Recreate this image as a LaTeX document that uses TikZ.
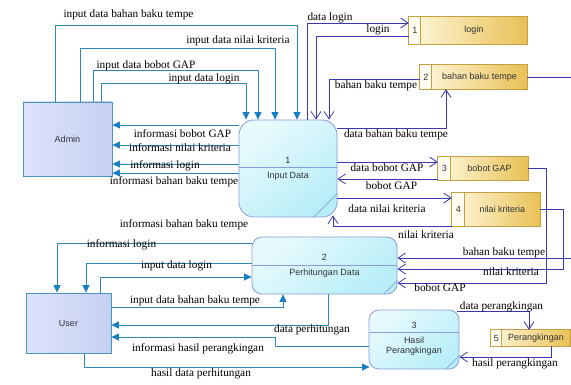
\documentclass[tikz,border=0pt]{standalone}
\usepackage{fontspec}
\setmainfont{Liberation Serif}
\newfontfamily\boxfont{Liberation Sans}
\usetikzlibrary{arrows.meta,calc}

\definecolor{flowteal}{HTML}{2F87B5}
\definecolor{tipteal}{HTML}{1A7EC2}
\definecolor{flowblue}{HTML}{3838B0}
\definecolor{entborder}{HTML}{4A94C0}
\definecolor{entA}{HTML}{DCE3FA}
\definecolor{entB}{HTML}{C6D0F2}
\definecolor{procborder}{HTML}{8A9CDF}
\definecolor{procA}{HTML}{E8FAFD}
\definecolor{procB}{HTML}{B8EEF8}
\definecolor{storeborder}{HTML}{C5A040}
\definecolor{storeA}{HTML}{FFF8DE}
\definecolor{storeB}{HTML}{E8C155}
\definecolor{storenum}{HTML}{FFFCF2}
\definecolor{boxtext}{HTML}{333333}

% data store: name, centre, width, height, width of number cell, number, title
\newcommand\dstore[7]{%
  \node[storebox, minimum width=#3pt, minimum height=#4pt] (#1) at (#2) {};
  \fill[storenum] (#1.north west) rectangle ($(#1.south west)+(#5,0)$);
  \draw[storeborder, line width=0.8pt] (#1.north west) rectangle (#1.south east);
  \draw[storeborder, line width=0.8pt] ($(#1.north west)+(#5,0)$) -- ($(#1.south west)+(#5,0)$);
  \node[btxt] (#1num) at ($(#1.west)+(#5/2,0)$) {#6};
  \node[btxt] (#1txt) at ($(#1.east)!0.5!($(#1.west)+(#5,0)$)$) {#7};
}

% process: name, centre, width, height, corner radius, divider offset from top, diagonal size
\newcommand\dproc[7]{%
  \node[proc, rounded corners=#5pt, minimum width=#3pt, minimum height=#4pt] (#1) at (#2) {};
  \draw[procborder, line width=0.7pt] ($(#1.north west)+(0,#6)$) -- ($(#1.north east)+(0,#6)$);
  \draw[procborder, line width=0.7pt] ($(#1.south east)+(-#7,0)$) -- ($(#1.south east)+(0,-#7)$);
}

\begin{document}
\begin{tikzpicture}[x=1pt,y=-1pt,
  lbl/.style={font=\fontsize{11.3}{13}\selectfont, inner sep=0pt, text=black},
  btxt/.style={font=\boxfont\fontsize{9}{11}\selectfont, inner sep=0pt, text=boxtext, align=center},
  entity/.style={rectangle, draw=entborder, line width=0.9pt, left color=entA, right color=entB,
    inner sep=0pt, font=\boxfont\fontsize{9}{11}\selectfont, text=boxtext},
  proc/.style={rectangle, draw=procborder, line width=0.8pt, top color=procA, bottom color=procB,
    shading angle=40, inner sep=0pt},
  storebox/.style={rectangle, left color=storeA, right color=storeB, inner sep=0pt},
  tflow/.style={draw=flowteal, line width=0.8pt, -{Triangle[length=7.5pt,width=7pt,color=tipteal]}},
  dflow/.style={draw=flowblue, line width=0.8pt, -{Straight Barb[length=7.5pt,width=10pt]}},
]
\useasboundingbox (0,0) rectangle (571,385);
\clip (0,0) rectangle (571,385);
\fill[white] (0,0) rectangle (571,385);

% external entities
\node[entity, minimum width=89pt, minimum height=74pt] (admin) at (67.5,139) {Admin};
\node[entity, minimum width=85pt, minimum height=60pt] (user) at (68.5,323) {User};

% processes
\dproc{p1}{288,168.5}{98}{97}{15}{48}{24}
\node[btxt] (p1num) at (288,160) {1};
\node[btxt] (p1txt) at (288,176) {Input Data};
\dproc{p2}{324.5,265.5}{145}{57}{10}{29}{14}
\node[btxt] (p2num) at (324.5,257) {2};
\node[btxt] (p2txt) at (324.5,273) {Perhitungan Data};
\dproc{p3}{414,339.5}{90}{59}{10}{23}{14}
\node[btxt] (p3num) at (414,325) {3};
\node[btxt] (p3txt) at (414,346) {Hasil\\[-1pt]Perangkingan};

% data stores
\dstore{s1}{468,30.5}{118}{27}{12}{1}{login}
\dstore{s2}{473.5,77}{107}{24}{12}{2}{bahan baku tempe}
\dstore{s3}{483,168.5}{90}{23}{13}{3}{bobot GAP}
\dstore{s4}{496,209.5}{88}{33}{13}{4}{nilai kriteria}
\dstore{s5}{530.5,338}{79}{16}{11}{5}{Perangkingan}

% Admin -> Input Data
\draw[tflow] (55,0 |- admin.north) |- (297,25) -- (297,0 |- p1.north);
\draw[tflow] (80,0 |- admin.north) |- (275,48) -- (275,0 |- p1.north);
\draw[tflow] (93,0 |- admin.north) |- (258,70) -- (258,0 |- p1.north);
\draw[tflow] (101,0 |- admin.north) |- (246,83) -- (246,0 |- p1.north);
\node[lbl] (la1) at (128.5,15) {input data bahan baku tempe};
\node[lbl] (la2) at (238,41) {input data nilai kriteria};
\node[lbl] (la3) at (146,66) {input data bobot GAP};
\node[lbl] (la4) at (204,79) {input data login};

% Input Data -> Admin
\draw[tflow] (p1.west |- 0,125) -- (admin.east |- 0,125);
\draw[tflow] (p1.west |- 0,145) -- (admin.east |- 0,145);
\draw[tflow] (p1.west |- 0,164) -- (admin.east |- 0,164);
\draw[tflow] (p1.west |- 0,173) -- (admin.east |- 0,173);
\node[lbl] (lb1) at (182.5,134) {informasi bobot GAP};
\node[lbl] (lb2) at (180,148) {informasi nilai kriteria};
\node[lbl] (lb3) at (165,166) {informasi login};
\node[lbl] (lb4) at (174,182) {informasi bahan baku tempe};
\node[lbl] (lb5) at (184,225) {informasi bahan baku tempe};

% Input Data <-> data stores
\draw[dflow] (307,0 |- p1.north) |- (s1.west |- 0,23);
\draw[dflow] (s1.west |- 0,36) -| (316,0 |- p1.north);
\draw[dflow] (s2.west |- 0,79) -| (329,0 |- p1.north);
\draw[dflow] (p1.east |- 0,128) -| (446,0 |- s2.south);
\draw[dflow] (p1.east |- 0,162) -- (s3.west |- 0,162);
\draw[dflow] (s3.west |- 0,179) -- (p1.east |- 0,179);
\draw[dflow] (p1.east |- 0,198) -- (s4.west |- 0,198);
\draw[dflow] (s4.south west) -| ($(333,0 |- p1.south)+(0,-2)$);
\node[lbl] (lc1) at (330,18) {data login};
\node[lbl] (lc2) at (378,30) {login};
\node[lbl] (lc3) at (376,86) {bahan baku tempe};
\node[lbl] (lc4) at (396,135) {data bahan baku tempe};
\node[lbl] (lc5) at (387,168) {data bobot GAP};
\node[lbl] (lc6) at (391.5,186) {bobot GAP};
\node[lbl] (lc7) at (387,209) {data nilai kriteria};
\node[lbl] (lc8) at (426,235) {nilai kriteria};

% data stores -> Perhitungan Data
\draw[dflow] (s2.east) -- (590,0 |- s2.east) |- (p2.east |- 0,258);
\draw[dflow] (s4.east) -- (563,0 |- s4.east) |- (p2.east |- 0,269);
\draw[dflow] (s3.east) -- (546,0 |- s3.east) |- (p2.east |- 0,283);
\node[lbl] (ld1) at (504,253) {bahan baku tempe};
\node[lbl] (ld2) at (511,272) {nilai kriteria};
\node[lbl] (ld3) at (440,288) {bobot GAP};

% Hasil Perangkingan <-> Perangkingan
\draw[dflow] ($(p3.north east)+(-2,2)$) -| (529,0 |- s5.north);
\draw[dflow] (551,0 |- s5.south) |- (p3.east |- 0,357);
\node[lbl] (le1) at (501.5,307) {data perangkingan};
\node[lbl] (le2) at (515,364) {hasil perangkingan};

% User <-> Perhitungan Data / Hasil Perangkingan
\draw[tflow] (p2.west |- 0,243) -| (57,0 |- user.north);
\draw[tflow] (p2.west |- 0,263) -| (86,0 |- user.north);
\draw[tflow] (100,0 |- user.north) |- (p2.west |- 0,277);
\draw[tflow] (user.east |- 0,307) -| (283,0 |- p2.south);
\draw[tflow] (328,0 |- p2.south) |- (user.east |- 0,325);
\draw[tflow] (p3.west |- 0,346) -| (275,337) -- (user.east |- 0,337);
\draw[tflow] (84,0 |- user.south) |- ($(p3.west |- 0,367)+(1,0)$);
\node[lbl] (lf1) at (121.5,245) {informasi login};
\node[lbl] (lf2) at (176.5,266) {input data login};
\node[lbl] (lf3) at (195,301) {input data bahan baku tempe};
\node[lbl] (lf4) at (312,330) {data perhitungan};
\node[lbl] (lf5) at (198,349) {informasi hasil perangkingan};
\node[lbl] (lf6) at (201,374) {hasil data perhitungan};
\end{tikzpicture}
\end{document}
